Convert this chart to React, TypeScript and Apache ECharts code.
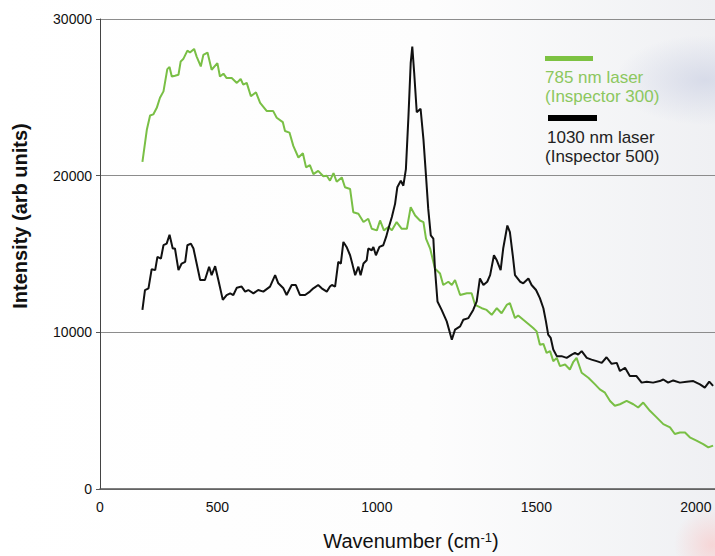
import React, { useEffect, useRef } from "react";
import * as echarts from "echarts";

// x-axis extent (wavenumber, cm-1) and y-axis ticks
const X_MIN = 132;
const X_MAX = 2060;
const Y_MAX = 30000;
const Y_INTERVAL = 10000;
const X_INTERVAL = 500;

// 785 nm laser (Inspector 300)
const GREEN_WAVENUMBER = [
  265, 279, 289, 299, 310, 320, 331, 343, 350, 357, 367, 378, 385, 393, 406, 414, 427, 435, 448, 456,
  469, 482, 500, 508, 519, 529, 545, 561, 573, 581, 592, 605, 621, 634, 655, 675, 686, 705, 712, 726,
  738, 754, 768, 778, 790, 801, 816, 832, 843, 853, 864, 874, 890, 900, 916, 926, 942, 958, 973, 984,
  1000, 1010, 1022, 1036, 1047, 1062, 1078, 1094, 1106, 1120, 1135, 1146, 1154, 1167, 1182, 1198, 1208,
  1224, 1235, 1245, 1261, 1282, 1297, 1308, 1329, 1344, 1360, 1376, 1391, 1407, 1417, 1433, 1443, 1459,
  1475, 1490, 1501, 1511, 1522, 1532, 1543, 1553, 1564, 1574, 1590, 1605, 1616, 1626, 1642, 1663, 1684,
  1699, 1715, 1731, 1746, 1762, 1783, 1804, 1819, 1835, 1856, 1877, 1898, 1919, 1934, 1950, 1966, 1981,
  2002, 2023, 2039, 2054,
];
const GREEN_INTENSITY = [
  20880, 22950, 23840, 23910, 24330, 24970, 25380, 26800, 26930, 26330, 26380, 26440, 27290, 27440, 27980,
  27860, 28090, 27600, 26970, 27710, 27860, 26760, 27180, 26330, 26510, 26230, 26230, 25920, 26170, 25810,
  25920, 25070, 25320, 24650, 24120, 24120, 23700, 23420, 22850, 22750, 21900, 21160, 21430, 20530, 20670,
  20100, 20310, 19960, 19990, 19680, 20160, 19610, 19890, 19260, 19150, 17670, 17570, 17040, 17250, 16610,
  16510, 17140, 16510, 16720, 16510, 17040, 16610, 16610, 17990, 17460, 17140, 17040, 15980, 15350, 14080,
  13760, 13020, 13230, 13020, 13340, 12380, 12490, 12490, 11750, 11540, 11430, 11120, 11540, 11220, 11750,
  11860, 10910, 11080, 10800, 10530, 10270, 10060, 9210, 9260, 8690, 8800, 8160, 8370, 7840, 7950, 7630,
  8120, 8370, 7420, 7100, 6680, 6360, 6150, 5620, 5310, 5410, 5620, 5410, 5200, 5520, 4990, 4570, 4140,
  3930, 3510, 3610, 3610, 3300, 3090, 2870, 2660, 2770,
];

// 1030 nm laser (Inspector 500)
const BLACK_WAVENUMBER = [
  265, 273, 284, 294, 305, 312, 323, 331, 341, 350, 360, 367, 378, 388, 399, 406, 417, 425, 435, 446,
  461, 474, 482, 493, 503, 517, 529, 540, 550, 561, 576, 587, 597, 613, 628, 644, 665, 681, 691, 707,
  717, 733, 746, 759, 775, 790, 801, 816, 827, 843, 853, 859, 869, 879, 887, 895, 905, 916, 924, 932,
  942, 949, 958, 968, 973, 984, 989, 997, 1008, 1020, 1029, 1036, 1047, 1057, 1064, 1075, 1083, 1091,
  1099, 1106, 1111, 1117, 1125, 1137, 1146, 1154, 1161, 1169, 1177, 1182, 1190, 1203, 1219, 1235, 1245,
  1261, 1271, 1287, 1302, 1313, 1323, 1334, 1346, 1355, 1367, 1376, 1388, 1396, 1409, 1417, 1426, 1433,
  1449, 1459, 1475, 1485, 1499, 1511, 1522, 1530, 1537, 1545, 1553, 1564, 1579, 1595, 1611, 1621, 1631,
  1642, 1658, 1673, 1689, 1705, 1720, 1736, 1752, 1762, 1778, 1793, 1814, 1830, 1846, 1866, 1887, 1898,
  1913, 1929, 1950, 1971, 1992, 2013, 2028, 2042, 2054,
];
const BLACK_INTENSITY = [
  11430, 12700, 12810, 14030, 13970, 14820, 14710, 15560, 15660, 16230, 15350, 15350, 13970, 14390, 14500,
  15560, 15660, 15350, 14390, 13340, 13340, 14190, 13650, 14220, 13340, 12070, 12380, 12490, 12380, 12850,
  12920, 12600, 12700, 12490, 12700, 12600, 12920, 13650, 13130, 12810, 12380, 13020, 13020, 12380, 12380,
  12600, 12810, 13020, 12810, 12600, 12920, 13020, 12920, 14500, 14390, 15770, 15450, 14920, 14290, 13650,
  14190, 13650, 14390, 14600, 15350, 15240, 15450, 14920, 15450, 15560, 16090, 16610, 17360, 18200, 19260,
  19680, 19360, 20420, 23800, 27180, 28240, 26550, 24050, 24270, 22320, 19990, 17880, 16190, 15980, 14080,
  11970, 11430, 10700, 9530, 10170, 10380, 10800, 10910, 11430, 11970, 13440, 13020, 13230, 13650, 14920,
  14600, 13970, 15350, 16820, 16400, 14920, 13650, 13230, 13130, 13440, 13020, 12700, 12180, 11540, 10700,
  9850, 9640, 8900, 8480, 8480, 8370, 8580, 8690, 8580, 8800, 8370, 8260, 8160, 8050, 8410, 7990, 8050,
  7530, 7740, 7210, 7210, 6790, 6850, 6790, 6890, 6990, 6790, 6930, 6790, 6850, 6890, 6680, 6470, 6850,
  6580,
];

const LEGEND_GREEN = ["785 nm laser", "(Inspector 300)"];
const LEGEND_BLACK = ["1030 nm laser", "(Inspector 500)"];

const FONT = '"Liberation Sans", Arial, Helvetica, sans-serif';
const GREEN = "#79bf45";
const GREEN_TEXT = "#8cc75e";
const BLACK = "#111111";

const zip = (xs: number[], ys: number[]) => xs.map((x, i) => [x, ys[i]]);

export default function App() {
  const ref = useRef<HTMLDivElement>(null);

  useEffect(() => {
    if (!ref.current) return;
    const chart = echarts.init(ref.current, undefined, { renderer: "svg" });

    const legendText = (text: string, x: number, y: number, fill: string) => ({
      type: "text",
      x,
      y,
      z: 10,
      style: {
        text,
        fill,
        font: `17px ${FONT}`,
        align: "left",
        verticalAlign: "middle",
      },
    });

    chart.setOption({
      animation: false,
      backgroundColor: "#ffffff",
      grid: { left: 100, right: 0, top: 19, bottom: 64, containLabel: false },
      xAxis: {
        type: "value",
        min: X_MIN,
        max: X_MAX,
        minInterval: X_INTERVAL,
        maxInterval: X_INTERVAL,
        name: "Wavenumber (cm{sup|-1})",
        nameLocation: "middle",
        nameGap: 42,
        nameTextStyle: {
          fontFamily: FONT,
          fontSize: 20,
          color: "#111",
          padding: [0, 0, 0, 7],
          rich: {
            sup: { fontFamily: FONT, fontSize: 13, color: "#111", verticalAlign: "top", padding: [0, 0, 6, 0] },
          },
        },
        axisLine: { show: true, onZero: false, lineStyle: { color: "#555", width: 1.5 } },
        axisTick: { show: false },
        splitLine: { show: false },
        axisLabel: {
          showMinLabel: true,
          showMaxLabel: false,
          margin: 11,
          fontFamily: FONT,
          fontSize: 14,
          color: "#111",
          formatter: (v: number) => (v === X_MIN ? "0" : String(v)),
        },
      },
      yAxis: {
        type: "value",
        min: 0,
        max: Y_MAX,
        interval: Y_INTERVAL,
        name: "Intensity (arb units)",
        nameLocation: "middle",
        nameGap: 70,
        nameTextStyle: {
          fontFamily: FONT,
          fontSize: 20,
          fontWeight: "bold",
          color: "#111",
          padding: [0, 0, 0, 76],
        },
        axisLine: { show: true, lineStyle: { color: "#444", width: 1 } },
        axisTick: { show: true, length: 4, lineStyle: { color: "#555" } },
        splitLine: { show: true, lineStyle: { color: "#8c8c8c", width: 1 } },
        axisLabel: {
          margin: 8,
          fontFamily: FONT,
          fontSize: 14,
          color: "#111",
          formatter: (v: number) => String(v),
        },
      },
      graphic: [
        {
          type: "rect",
          z: -100,
          silent: true,
          shape: { x: 0, y: 0, width: 715, height: 556 },
          style: {
            fill: {
              type: "linear",
              x: 0,
              y: 0,
              x2: 1,
              y2: 0,
              colorStops: [
                { offset: 0, color: "#ffffff" },
                { offset: 0.6, color: "#fdfdfd" },
                { offset: 1, color: "#eff0f3" },
              ],
            },
          },
        },
        {
          type: "ellipse",
          z: -99,
          silent: true,
          shape: { cx: 705, cy: 80, rx: 90, ry: 45 },
          style: {
            fill: {
              type: "radial",
              x: 0.5,
              y: 0.5,
              r: 0.5,
              colorStops: [
                { offset: 0, color: "rgba(205,210,228,0.7)" },
                { offset: 1, color: "rgba(205,210,228,0)" },
              ],
            },
          },
        },
        {
          type: "circle",
          z: -99,
          silent: true,
          shape: { cx: 712, cy: 545, r: 38 },
          style: {
            fill: {
              type: "radial",
              x: 0.5,
              y: 0.5,
              r: 0.5,
              colorStops: [
                { offset: 0, color: "rgba(248,205,205,0.75)" },
                { offset: 1, color: "rgba(248,205,205,0)" },
              ],
            },
          },
        },
        { type: "rect", z: 10, shape: { x: 545, y: 56, width: 48, height: 5 }, style: { fill: "#7dc242" } },
        legendText(LEGEND_GREEN[0], 545, 77, GREEN_TEXT),
        legendText(LEGEND_GREEN[1], 545, 96, GREEN_TEXT),
        { type: "rect", z: 10, shape: { x: 548, y: 115, width: 49, height: 6 }, style: { fill: "#000" } },
        legendText(LEGEND_BLACK[0], 547, 137, "#222"),
        legendText(LEGEND_BLACK[1], 545, 156, "#222"),
      ],
      series: [
        {
          name: "785 nm laser (Inspector 300)",
          type: "line",
          data: zip(GREEN_WAVENUMBER, GREEN_INTENSITY),
          showSymbol: false,
          symbol: "none",
          lineStyle: { color: GREEN, width: 2 },
          itemStyle: { color: GREEN },
          z: 2,
        },
        {
          name: "1030 nm laser (Inspector 500)",
          type: "line",
          data: zip(BLACK_WAVENUMBER, BLACK_INTENSITY),
          showSymbol: false,
          symbol: "none",
          lineStyle: { color: BLACK, width: 2 },
          itemStyle: { color: BLACK },
          z: 3,
        },
      ],
    });

    return () => chart.dispose();
  }, []);

  return (
    <div
      ref={ref}
      style={{ position: "fixed", left: 0, top: 0, width: 715, height: 556 }}
    />
  );
}
